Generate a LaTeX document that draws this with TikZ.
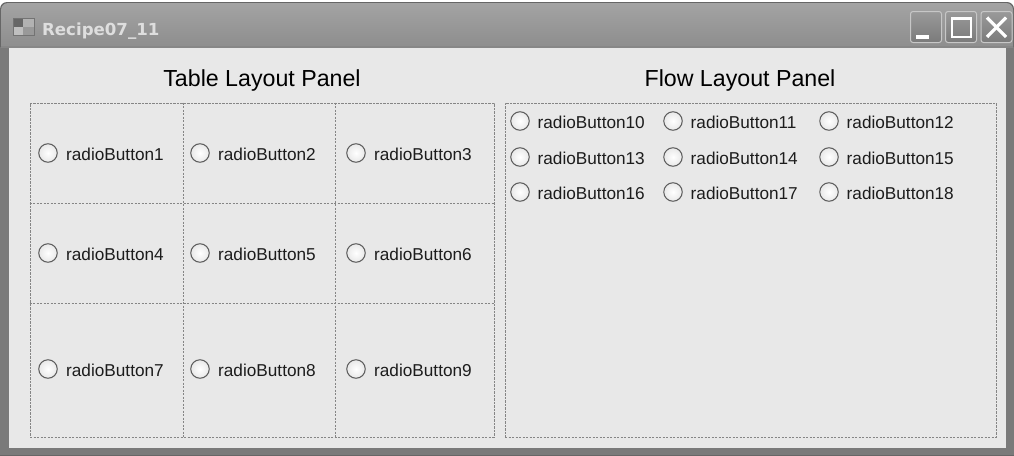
\documentclass[tikz,border=0pt]{standalone}
\usepackage{fontspec}
\setmainfont{Liberation Sans}
\newfontfamily\wtitle{DejaVu Sans}
\definecolor{frame}{HTML}{7A7A7A}
\definecolor{client}{HTML}{E8E8E8}
\definecolor{dashc}{HTML}{858585}
\definecolor{txt}{HTML}{1C1C1C}
\definecolor{ring}{HTML}{5A5A5A}
\begin{document}
\begin{tikzpicture}[x=1pt,y=-1pt,
  panel/.style={draw=dashc,line width=0.8pt,dash pattern=on 2.2pt off 1.3pt},
  radio/.style={circle,draw=ring,line width=1pt,minimum size=18.5pt,inner sep=0pt,
     inner color=white,outer color=black!9},
  rlabel/.style={anchor=base west,inner sep=0pt,text=txt,font=\fontsize{17.2}{17}\selectfont},
  ptitle/.style={anchor=base,inner sep=0pt,text=black,font=\fontsize{23.2}{23}\selectfont},
  wbtn/.style={draw=black!22,line width=1pt,rounded corners=2.5pt,top color=black!40,bottom color=black!52},
]
\useasboundingbox (0,0) rectangle (1014,455);
% window frame
\fill[black!60,rounded corners=7pt] (0,2) rectangle (1014,470);
\shade[top color=black!36,bottom color=black!47,rounded corners=7pt] (1,3) rectangle (1013,60);
\fill[frame] (0,47) rectangle (1014,455);
\fill[black!47] (1,46) rectangle (1013,48);
\fill[client] (9,48) rectangle (1006,448);
% title icon
\node[inner sep=0pt,minimum width=21pt,minimum height=17pt,draw=black!55,fill=black!15] (icon) at (23.5,27) {};
\fill[black!60] (13.5,19) rectangle (23,27);
\fill[black!30] (23,19) rectangle (33.5,27);
\fill[black!25] (13.5,27) rectangle (23,35);
\fill[black!40] (23,27) rectangle (33.5,35);
\node[anchor=base west,inner sep=0pt,text=black!13,font=\wtitle\bfseries\fontsize{16.6}{16}\selectfont] (wt) at (42,35.5) {Recipe07\_11};
% window buttons
\node[wbtn,minimum width=31pt,minimum height=31pt,inner sep=0pt] (bmin) at (926,27) {};
\node[wbtn,minimum width=31pt,minimum height=31pt,inner sep=0pt] (bmax) at (961,27) {};
\node[wbtn,minimum width=31pt,minimum height=31pt,inner sep=0pt] (bcls) at (996.5,27) {};
\fill[white] (916,35) rectangle (929,39);
\draw[white,line width=2pt] (952,18) rectangle (971,37);
\draw[white,line width=2.5pt] (952,18.5) -- (971,18.5);
\draw[white,line width=3.2pt] (987,17.5) -- (1006,37);
\draw[white,line width=3.2pt] (1006,17.5) -- (987,37);
% panel titles
\node[ptitle] (tt) at (262,86) {Table Layout Panel};
\node[ptitle] (ft) at (740,86) {Flow Layout Panel};
% table panel
\node[panel,inner sep=0pt,minimum width=464pt,minimum height=334pt] (tbl) at (262,270) {};
\draw[panel] (tbl.north west -| 183,0) -- (tbl.south west -| 183,0);
\draw[panel] (tbl.north west -| 335,0) -- (tbl.south west -| 335,0);
\draw[panel] (tbl.north west |- 0,203) -- (tbl.north east |- 0,203);
\draw[panel] (tbl.north west |- 0,303) -- (tbl.north east |- 0,303);
% flow panel
\node[panel,inner sep=0pt,minimum width=491pt,minimum height=334pt] (flw) at (750.5,270) {};
% table radios
\foreach \r/\y in {0/153,1/253,2/369}{
  \foreach \c/\cx in {1/48,2/200,3/356}{
    \pgfmathtruncatemacro{\n}{3*\r+\c}
    \node[radio] (rc\n) at (\cx,\y) {};
    \node[rlabel] (rt\n) at (\cx+18,\y+7) {radioButton\n};
  }
}
% flow radios
\foreach \r/\y in {0/121,1/157,2/192}{
  \foreach \c/\cx in {1/520,2/673,3/829}{
    \pgfmathtruncatemacro{\n}{3*\r+\c+9}
    \node[radio] (fc\n) at (\cx,\y) {};
    \node[rlabel] (ft\n) at (\cx+17.5,\y+7) {radioButton\n};
  }
}
\end{tikzpicture}
\end{document}
